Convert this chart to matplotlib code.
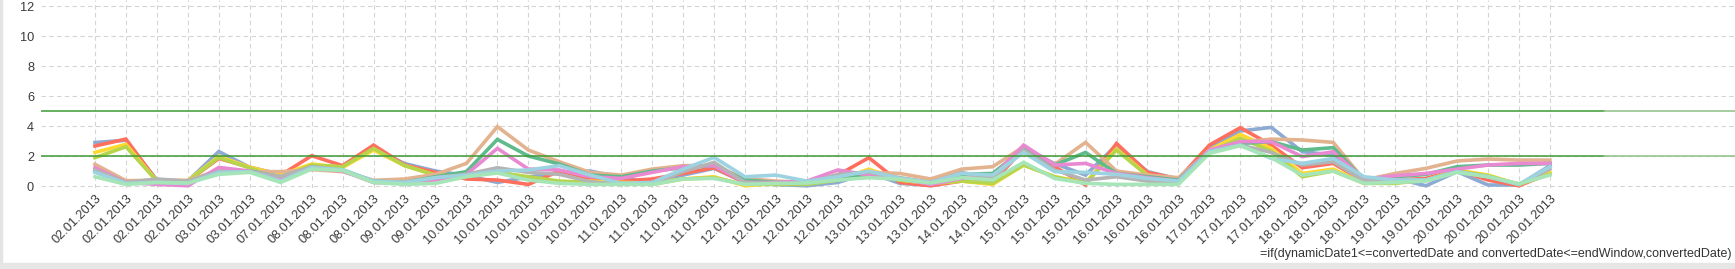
import matplotlib
matplotlib.use("Agg")
import matplotlib.pyplot as plt
from matplotlib.patches import Rectangle

plt.rcParams["font.family"] = ["Liberation Sans", "DejaVu Sans"]

dates = (["02.01.2013"] * 4 + ["03.01.2013"] * 2 + ["07.01.2013"] + ["08.01.2013"] * 3
         + ["09.01.2013"] * 2 + ["10.01.2013"] * 5 + ["11.01.2013"] * 4 + ["12.01.2013"] * 4
         + ["13.01.2013"] * 3 + ["14.01.2013"] * 2 + ["15.01.2013"] * 3 + ["16.01.2013"] * 3
         + ["17.01.2013"] * 3 + ["18.01.2013"] * 3 + ["19.01.2013"] * 2 + ["20.01.2013"] * 4)

blue = [2.9, 3.05, 0.4, 0.33, 2.3, 1.25, 0.78, 1.36, 1.3, 2.5, 1.5, 1.0, 0.7, 0.24, 0.6, 0.9,
        1.0, 0.56, 0.24, 0.73, 1.18, 0.24, 0.1, 0.02, 0.24, 0.9, 0.18, 0.05, 0.4, 0.3, 2.5, 1.5,
        0.73, 2.73, 0.96, 0.47, 2.6, 3.67, 3.91, 2.29, 2.07, 0.4, 0.51, 0.02, 0.96, 0.07, 0.07, 1.36]
red = [2.67, 3.13, 0.33, 0.33, 1.84, 1.25, 0.73, 2.02, 1.36, 2.73, 1.4, 0.91, 0.47, 0.4, 0.11, 1.0,
       0.51, 0.33, 0.47, 0.84, 1.22, 0.24, 0.18, 0.2, 0.73, 1.89, 0.24, 0.02, 0.33, 0.24, 2.5, 1.29,
       0.07, 2.84, 0.91, 0.47, 2.73, 3.89, 2.73, 1.22, 1.51, 0.3, 0.4, 0.51, 1.07, 0.4, 0.02, 0.84]
yellow = [2.24, 2.78, 0.33, 0.36, 1.98, 1.25, 0.75, 1.47, 1.24, 2.4, 1.36, 0.73, 0.73, 0.96, 0.56, 0.24,
          0.33, 0.24, 0.2, 0.47, 0.62, 0.02, 0.18, 0.2, 0.4, 1.13, 0.4, 0.18, 0.33, 0.11, 1.4, 0.62,
          0.24, 2.47, 0.73, 0.4, 2.4, 3.44, 2.51, 0.84, 1.13, 0.18, 0.24, 0.4, 1.07, 0.73, 0.11, 0.91]
yellowgreen = [1.89, 2.62, 0.33, 0.33, 1.9, 1.2, 0.56, 1.4, 1.29, 2.51, 1.36, 0.73, 0.69, 0.91, 0.62, 0.33,
               0.24, 0.18, 0.11, 0.47, 0.56, 0.11, 0.11, 0.11, 0.4, 0.73, 0.4, 0.18, 0.33, 0.18, 1.4, 0.62,
               0.18, 2.4, 0.69, 0.33, 2.29, 3.18, 2.33, 0.62, 1.0, 0.18, 0.18, 0.4, 1.0, 0.69, 0.11, 0.78]
tan = [1.45, 0.36, 0.38, 0.38, 1.04, 0.96, 0.96, 1.09, 0.96, 0.38, 0.47, 0.78, 1.51, 3.96, 2.4, 1.62,
       0.91, 0.73, 1.13, 1.36, 1.36, 0.51, 0.33, 0.24, 0.73, 0.91, 0.84, 0.47, 1.13, 1.29, 2.62, 1.44,
       2.91, 1.0, 0.73, 0.56, 2.35, 2.91, 3.13, 3.07, 2.91, 0.4, 0.84, 1.18, 1.67, 1.8, 1.73, 1.73]
green = [1.0, 0.18, 0.24, 0.3, 0.82, 1.0, 0.62, 1.18, 1.07, 0.33, 0.24, 0.62, 0.96, 3.11, 2.0, 1.47,
         0.73, 0.62, 1.0, 1.22, 1.36, 0.4, 0.24, 0.24, 0.62, 0.78, 0.51, 0.24, 0.78, 0.84, 2.47, 1.4,
         2.24, 0.84, 0.62, 0.4, 2.35, 2.84, 2.96, 2.4, 2.56, 0.4, 0.62, 0.78, 1.29, 1.4, 1.4, 1.51]
pink = [1.22, 0.24, 0.11, 0.02, 1.24, 1.0, 0.4, 1.18, 1.0, 0.24, 0.18, 0.4, 0.78, 2.51, 1.13, 1.07,
        0.62, 0.51, 0.91, 1.29, 1.36, 0.24, 0.24, 0.33, 1.07, 0.73, 0.51, 0.1, 0.51, 0.62, 2.73, 1.4,
        1.51, 0.84, 0.56, 0.33, 2.4, 2.96, 2.96, 1.96, 2.29, 0.45, 0.69, 0.84, 1.13, 1.4, 1.51, 1.51]
gray = [1.07, 0.24, 0.47, 0.33, 0.96, 0.96, 0.64, 1.29, 1.07, 0.24, 0.24, 0.56, 0.78, 1.22, 0.91, 0.78,
        0.29, 0.11, 0.15, 0.96, 1.58, 0.24, 0.18, 0.18, 0.78, 0.91, 0.56, 0.24, 0.91, 0.47, 2.4, 1.07,
        0.4, 0.62, 0.33, 0.18, 2.3, 2.73, 2.24, 1.4, 1.62, 0.33, 0.4, 0.4, 0.96, 0.62, 0.11, 1.13]
lightblue = [0.91, 0.18, 0.24, 0.18, 0.91, 0.96, 0.33, 1.22, 1.09, 0.33, 0.24, 0.56, 0.73, 1.0, 1.07, 1.36,
             0.73, 0.18, 0.24, 1.13, 1.91, 0.62, 0.73, 0.33, 0.62, 1.0, 0.51, 0.24, 0.84, 0.73, 2.24, 0.96,
             0.91, 0.78, 0.51, 0.33, 2.29, 2.73, 1.84, 1.51, 1.84, 0.62, 0.4, 0.4, 0.96, 0.62, 0.11, 1.29]
mint = [0.62, 0.11, 0.24, 0.2, 0.78, 0.91, 0.24, 1.13, 1.04, 0.24, 0.11, 0.18, 0.62, 0.87, 0.4, 0.18,
        0.11, 0.11, 0.11, 0.47, 0.51, 0.11, 0.18, 0.2, 0.4, 0.56, 0.45, 0.2, 0.56, 0.4, 1.58, 0.51,
        0.18, 0.11, 0.11, 0.11, 2.18, 2.69, 1.89, 0.73, 1.0, 0.18, 0.24, 0.33, 0.91, 0.62, 0.16, 0.73]

series = [(blue, "#8caad2"), (red, "#ff6f5e"), (yellow, "#ffd92f"), (yellowgreen, "#b6d54c"),
          (tan, "#e3b38f"), (green, "#5fbb8c"), (pink, "#e889d2"), (gray, "#b4b4b4"),
          (lightblue, "#9dd3e0"), (mint, "#a6e5b8")]
limit_lines = [5, 2]
formula = "=if(dynamicDate1<=convertedDate and convertedDate<=endWindow,convertedDate)"

W, H = 1735, 269
fig = plt.figure(figsize=(W / 100, H / 100), dpi=100)
ax = fig.add_axes([41 / W, 81 / H, 1 - 41 / W, 1 - 81 / H])

x = list(range(len(dates)))
for vals, col in series:
    ax.plot(x, vals, color=col, lw=2.6, solid_joinstyle="miter")

split = (1604 - 41) / (W - 41)
for v in limit_lines:
    ax.axhline(v, xmin=0, xmax=split, color="#3f9a36", lw=1.1)
    ax.axhline(v, xmin=split, xmax=1, color="#8cc084", lw=1.1)

ax.set_xlim(-1.744, 52.98)
ax.set_ylim(-0.13, 12.4)
ax.set_xticks(x)
ax.set_xticklabels(dates, rotation=45, ha="right", rotation_mode="anchor",
                   fontsize=9.2, color="#3a3a3a")
ax.set_yticks(range(0, 13, 2))
ax.set_yticklabels([str(v) for v in range(0, 13, 2)], fontsize=9.2, color="#3a3a3a")
ax.tick_params(length=0, axis="x", pad=3)
ax.tick_params(length=0, axis="y", pad=5)
ax.grid(True, color="#d4d4d4", ls=(0, (4, 3)), lw=0.8)
ax.set_axisbelow(True)
for s in ax.spines.values():
    s.set_visible(False)

fig.text(1731 / W, 1 - 254 / H, formula, ha="right", va="center", fontsize=9.0, color="#333333")

fig.patches.append(Rectangle((0, 0), 2 / W, 1, transform=fig.transFigure, color="#e4e4e4", zorder=0))
fig.patches.append(Rectangle((0, 0), 1, 6 / H, transform=fig.transFigure, color="#e6e6e6", zorder=0))

fig.savefig("out.png", dpi=100)
